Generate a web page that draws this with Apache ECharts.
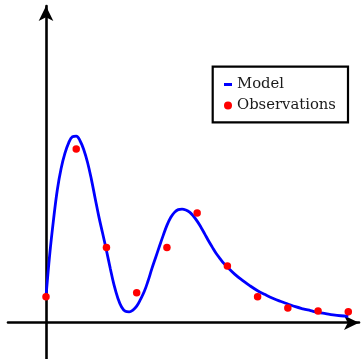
<!DOCTYPE html>
<html>
<head>
<meta charset="utf-8">
<script src="https://cdn.jsdelivr.net/npm/echarts@6/dist/echarts.min.js"></script>
<style>
  html, body { margin: 0; padding: 0; background: #fff; }
  #chart { width: 361px; height: 359px; }
</style>
</head>
<body>
<div id="chart"></div>
<script>
// Fitted model curve, sampled as [x, y]
var modelX = [0, 0.125, 0.25, 0.375, 0.5, 0.625, 0.75, 0.875, 1.0, 1.125, 1.25, 1.375, 1.5, 1.625, 1.75, 1.875, 2.0, 2.125, 2.25, 2.375, 2.5, 2.625, 2.75, 2.875, 3.0, 3.125, 3.25, 3.375, 3.5, 3.625, 3.75, 3.875, 4.0, 4.125, 4.25, 4.375, 4.5, 4.625, 4.75, 4.875, 5.0, 5.125, 5.25, 5.375, 5.5, 5.625, 5.75, 5.875, 6.0, 6.25, 6.5, 6.75, 7.0, 7.25, 7.5, 7.75, 8.0, 8.25, 8.5, 8.75, 9.0, 9.25, 9.5, 9.75, 10];
var modelY = [0.86, 2.28, 3.42, 4.4, 5.1, 5.6, 5.95, 6.15, 6.17, 6.02, 5.72, 5.3, 4.75, 4.12, 3.5, 2.95, 2.39, 1.8, 1.25, 0.82, 0.52, 0.38, 0.36, 0.42, 0.55, 0.77, 1.03, 1.38, 1.78, 2.15, 2.52, 2.88, 3.22, 3.48, 3.65, 3.74, 3.76, 3.73, 3.66, 3.53, 3.36, 3.16, 2.94, 2.71, 2.5, 2.3, 2.13, 1.97, 1.84, 1.6, 1.4, 1.22, 1.06, 0.93, 0.81, 0.71, 0.62, 0.53, 0.46, 0.4, 0.34, 0.3, 0.26, 0.23, 0.21];

// Measured observations
var obsX = [0, 1, 2, 3, 4, 5, 6, 7, 8, 9, 10];
var obsY = [0.86, 5.75, 2.49, 0.99, 2.49, 3.63, 1.88, 0.86, 0.49, 0.39, 0.36];

var seriesNames = ['Model', 'Observations'];

function pairs(xs, ys) {
  return xs.map(function (x, i) { return [x, ys[i]]; });
}

var chart = echarts.init(document.getElementById('chart'), null, { renderer: 'canvas' });

var axisLineStyle = {
  show: true,
  onZero: true,
  symbol: ['none', 'arrow'],
  symbolSize: [11, 15],
  lineStyle: { color: '#000', width: 2.6 }
};

chart.setOption({
  animation: false,
  backgroundColor: '#fff',
  grid: { left: 8, right: 2, top: 6, bottom: 0, containLabel: false },
  xAxis: {
    type: 'value',
    min: -1.257,
    max: 10.354,
    axisLine: axisLineStyle,
    axisTick: { show: false },
    axisLabel: { show: false },
    splitLine: { show: false }
  },
  yAxis: {
    type: 'value',
    min: -1.2,
    max: 10.476,
    axisLine: axisLineStyle,
    axisTick: { show: false },
    axisLabel: { show: false },
    splitLine: { show: false }
  },
  legend: {
    orient: 'vertical',
    left: 224,
    top: 77,
    padding: 0,
    itemWidth: 8,
    itemHeight: 8,
    itemGap: 6,
    textStyle: { fontFamily: 'DejaVu Serif', fontSize: 14.8, color: '#1a1a1a', lineHeight: 14 },
    data: [
      { name: seriesNames[0], icon: 'path://M0,0 L0,0 M0,8 L0,8 M0,2.5 L8,2.5 L8,5.5 L0,5.5 Z' },
      { name: seriesNames[1], icon: 'circle' }
    ]
  },
  graphic: [{
    type: 'rect',
    z: -1,
    shape: { x: 212.7, y: 66.7, width: 135.3, height: 55.6 },
    style: { fill: '#fff', stroke: '#000', lineWidth: 2.2 }
  }],
  series: [
    {
      name: seriesNames[0],
      type: 'line',
      data: pairs(modelX, modelY),
      smooth: 0.4,
      showSymbol: false,
      symbol: 'none',
      color: '#0000ff',
      lineStyle: { color: '#0000ff', width: 2.8 },
      z: 2
    },
    {
      name: seriesNames[1],
      type: 'scatter',
      data: pairs(obsX, obsY),
      symbol: 'circle',
      symbolSize: 7.5,
      itemStyle: { color: '#ff0000', opacity: 1 },
      z: 3
    }
  ]
});
</script>
</body>
</html>
